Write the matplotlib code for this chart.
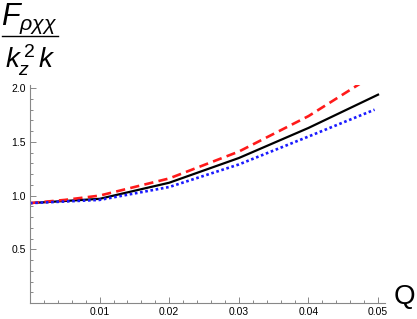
import matplotlib
matplotlib.use("Agg")
import matplotlib.pyplot as plt
from matplotlib.lines import Line2D

plt.rcParams["font.family"] = ["Liberation Sans", "DejaVu Sans"]
plt.rcParams["mathtext.fontset"] = "custom"
plt.rcParams["mathtext.it"] = "Liberation Sans:italic"
plt.rcParams["mathtext.rm"] = "Liberation Sans"

# values
q_black = [0.0, 0.005, 0.01, 0.02, 0.03, 0.04, 0.05]
f_black = [0.93, 0.95, 0.97, 1.12, 1.35, 1.63, 1.94]

q_red = [0.0, 0.005, 0.01, 0.02, 0.03, 0.04, 0.0476]
f_red = [0.93, 0.96, 1.00, 1.16, 1.41, 1.74, 2.05]

q_blue = [0.0, 0.005, 0.01, 0.02, 0.03, 0.04, 0.0495]
f_blue = [0.93, 0.945, 0.96, 1.08, 1.29, 1.55, 1.80]

xticks = [0.01, 0.02, 0.03, 0.04, 0.05]
yticks = [0.5, 1.0, 1.5, 2.0]

W, H = 417, 319
fig = plt.figure(figsize=(W / 100, H / 100), dpi=100)
ax = fig.add_axes([30 / W, 16 / H, (385 - 30) / W, (303 - 85) / H])

ax.plot(q_black, f_black, color="black", lw=1.6)
ax.plot(q_red, f_red, color="#ff1a1a", lw=1.9, linestyle=(0, (3.5, 2)))
ax.plot(q_blue, f_blue, color="#1a1aff", lw=1.9, linestyle=(0, (1, 1)))

ax.set_xlim(0, 0.051)
ax.set_ylim(0, 2.03)

for s in ["top", "right"]:
    ax.spines[s].set_visible(False)
for s in ["left", "bottom"]:
    ax.spines[s].set_color("#888888")
    ax.spines[s].set_linewidth(0.8)

ax.set_xticks(xticks)
ax.set_xticklabels([f"{v:.2f}" for v in xticks])
ax.set_yticks(yticks)
ax.set_yticklabels([f"{v:.1f}" for v in yticks])
ax.set_xticks([i * 0.002 for i in range(1, 26)], minor=True)
ax.set_yticks([i * 0.1 for i in range(1, 21)], minor=True)
ax.tick_params(which="both", direction="in", color="#888888", labelsize=7.5, width=0.7)
ax.tick_params(which="major", length=4, pad=3)
ax.tick_params(which="minor", length=2)

fig.text(394 / W, 1 - 297 / H, "Q", fontsize=20, va="center", ha="left")

fig.text(29 / W, 1 - 19 / H, r"$F_{\rho\chi\chi}$", fontsize=22, ha="center", va="center")
fig.add_artist(Line2D([2 / W, 58 / W], [1 - 36 / H, 1 - 36 / H],
                      transform=fig.transFigure, color="black", lw=1.0))
fig.text(30 / W, 1 - 60 / H, r"$k_z^{\,2}\,k$", fontsize=20, ha="center", va="center")

fig.savefig("out.png", dpi=100)
